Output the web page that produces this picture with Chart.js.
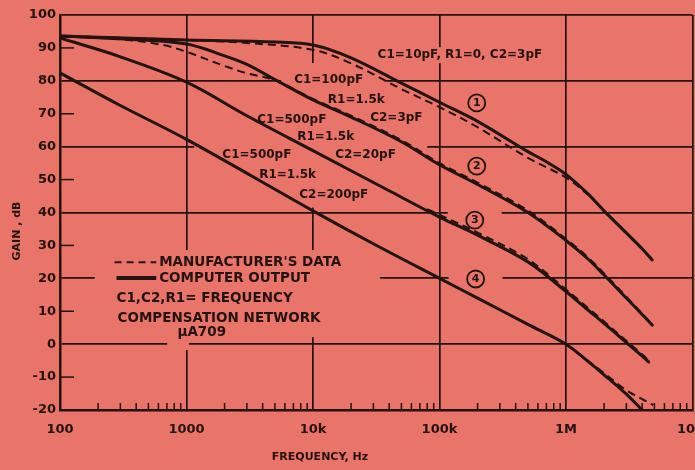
<!DOCTYPE html>
<html>
<head>
<meta charset="utf-8">
<script src="https://cdn.jsdelivr.net/npm/chart.js@4"></script>
<style>
  html, body { margin: 0; padding: 0; background: #e8746a; overflow: hidden; }
  canvas { display: block; }
</style>
</head>
<body>
<canvas id="gainChart" width="720" height="470"></canvas>
<script>
// ---------- Data (Hz, dB) ----------
// curve 1: C1=10pF, R1=0, C2=3pF
const freq1 = [100, 1e3, 5e3, 1e4, 2e4, 5e4, 1e5, 2e5, 5e5, 7e5, 1e6, 1.5e6, 2e6, 3e6, 4e6, 4.8e6];
const gain1 = [93.6, 92.4, 91.8, 90.9, 87.0, 79.3, 73.5, 67.7, 58.5, 55.4, 51.6, 45.6, 40.5, 33.8, 29.0, 25.6];
const freqM1 = [100, 1e3, 3e3, 1e4, 2e4, 5e4, 1e5, 2e5, 5e5, 1e6, 1.5e6, 2e6, 3e6, 4e6, 4.8e6];
const gainM1 = [93.6, 92.4, 91.5, 89.4, 85.3, 77.5, 72.0, 65.9, 56.6, 50.6, 45.3, 40.4, 33.7, 28.9, 25.6];

// curve 2: C1=100pF, R1=1.5k, C2=3pF
const freq2 = [100, 300, 1e3, 2e3, 3e3, 5e3, 1e4, 2e4, 5e4, 1e5, 2e5, 5e5, 1e6, 1.5e6, 2e6, 3e6, 4e6, 4.8e6];
const gain2 = [93.6, 92.8, 91.2, 87.6, 85.0, 80.4, 74.2, 69.0, 61.5, 54.5, 48.5, 40.0, 31.5, 25.8, 21.0, 14.0, 9.0, 5.8];
const freqM2 = [100, 300, 650, 1e3, 2e3, 3e3, 5e3, 1e4, 2e4, 5e4, 1e5, 2e5, 5e5, 1e6, 1.5e6, 2e6, 3e6, 4e6, 4.8e6];
const gainM2 = [93.6, 92.6, 90.9, 88.8, 84.5, 82.3, 80.2, 74.5, 69.4, 62.0, 55.0, 49.1, 40.6, 32.0, 26.3, 21.5, 14.4, 9.3, 6.0];

// curve 3: C1=500pF, R1=1.5k, C2=20pF
const freq3 = [100, 300, 1e3, 3e3, 1e4, 4e4, 1e5, 2e5, 5e5, 1e6, 1.5e6, 2e6, 3e6, 4e6, 4.5e6];
const gain3 = [93.0, 87.3, 79.6, 69.4, 58.8, 46.6, 38.6, 33.1, 25.0, 16.0, 10.3, 6.3, 0.5, -3.6, -5.4];
const freqM3 = [8e4, 1e5, 2e5, 5e5, 1e6, 1.5e6, 2e6, 3e6, 4e6, 4.5e6];
const gainM3 = [41.0, 39.3, 33.9, 25.8, 16.6, 10.9, 6.9, 1.0, -3.1, -5.0];

// curve 4: C1=500pF, R1=1.5k, C2=200pF
const freq4 = [100, 300, 1e3, 1e4, 3e4, 1e5, 2e5, 5e5, 1e6, 1.5e6, 2e6, 3e6, 4e6];
const gain4 = [82.4, 72.5, 62.2, 40.5, 30.5, 20.0, 14.0, 6.0, 0.0, -5.3, -9.3, -15.2, -20];
const freqM4 = [1e6, 2e6, 3e6, 4e6, 4.9e6];
const gainM4 = [0.0, -8.8, -14.0, -16.7, -18.5];

// axes
const majorFreqs = [100, 1e3, 1e4, 1e5, 1e6, 1e7];
const freqLabels = ["100", "1000", "10k", "100k", "1M", "10M"];
const gainMin = -20;
const gainMax = 100;

// ---------- Annotations (placed in data units) ----------
const curveNotes = [
  { f: 145000, g: 87.8, text: "C1=10pF, R1=0, C2=3pF" },
  { f: 13300, g: 80.2, text: "C1=100pF" },
  { f: 22000, g: 74.2, text: "R1=1.5k" },
  { f: 45600, g: 68.7, text: "C2=3pF" },
  { f: 6800, g: 68.1, text: "C1=500pF" },
  { f: 12600, g: 62.9, text: "R1=1.5k" },
  { f: 26000, g: 57.4, text: "C2=20pF" },
  { f: 3600, g: 57.4, text: "C1=500pF" },
  { f: 6300, g: 51.4, text: "R1=1.5k" },
  { f: 14600, g: 45.3, text: "C2=200pF" },
];
const circleNotes = [
  { f: 197000, g: 73.3, text: "1" },
  { f: 197000, g: 54.1, text: "2" },
  { f: 190000, g: 37.7, text: "3" },
  { f: 193000, g: 19.8, text: "4" },
];
const legendTexts = [
  { f: 608, g: 24.9, text: "MANUFACTURER'S DATA", align: "left" },
  { f: 608, g: 20.1, text: "COMPUTER OUTPUT", align: "left" },
  { f: 280, g: 14.0, text: "C1,C2,R1= FREQUENCY", align: "left" },
  { f: 285, g: 7.9, text: "COMPENSATION NETWORK", align: "left" },
  { f: 1320, g: 3.6, text: "μA709", align: "center" },
];
// places where the drafted grid is broken
const gapBoxes = [
  { f0: 188, f1: 34000, g0: 2.1, g1: 28.6 },
  { f0: 703, f1: 1046, g0: -1.8, g1: 2.1 },
  { f0: 1150, f1: 80000, g0: 58.5, g1: 61.5 },
  { f0: 5600, f1: 37000, g0: 78.5, g1: 81.5 },
  { f0: 8400, f1: 10700, g0: 41.5, g1: 85.4 },
];

const INK = "#24130f";
const PAPER = "#e8746a";
const FONT = '"DejaVu Sans", sans-serif';

const pts = (fs, gs) => fs.map((f, i) => ({ x: f, y: gs[i] }));

function solid(fs, gs) {
  return { data: pts(fs, gs), borderColor: INK, borderWidth: 3, pointRadius: 0,
           tension: 0.35, borderCapStyle: "round" };
}
function dashed(fs, gs) {
  return { data: pts(fs, gs), borderColor: INK, borderWidth: 2, pointRadius: 0,
           borderDash: [8, 5], tension: 0.35 };
}

// ---------- Drafting extras ----------
const drafting = {
  id: "drafting",
  beforeDatasetsDraw(chart) {
    const { ctx, chartArea, scales: { x, y } } = chart;
    const px = (f) => x.getPixelForValue(f);
    const py = (g) => y.getPixelForValue(g);
    ctx.save();

    // breaks in the grid
    ctx.fillStyle = PAPER;
    gapBoxes.forEach((b) => {
      ctx.fillRect(px(b.f0), py(b.g1), px(b.f1) - px(b.f0), py(b.g0) - py(b.g1));
    });

    // minor ticks on the frequency axis, pointing up
    ctx.strokeStyle = INK;
    ctx.lineWidth = 1.5;
    x.ticks.forEach((t) => {
      if (majorFreqs.includes(t.value)) return;
      const xx = px(t.value);
      ctx.beginPath();
      ctx.moveTo(xx, chartArea.bottom);
      ctx.lineTo(xx, chartArea.bottom - 7);
      ctx.stroke();
    });
    // short ticks at the odd tens of dB
    y.ticks.forEach((t) => {
      if (t.value % 20 === 0) return;
      const yy = py(t.value);
      ctx.beginPath();
      ctx.moveTo(chartArea.left, yy);
      ctx.lineTo(chartArea.left + 14, yy);
      ctx.stroke();
    });

    // curve labels
    ctx.font = "bold 12px " + FONT;
    ctx.textAlign = "center";
    ctx.textBaseline = "middle";
    curveNotes.forEach((n) => {
      const w = ctx.measureText(n.text).width;
      const cx = px(n.f), cy = py(n.g);
      ctx.fillStyle = PAPER;
      ctx.fillRect(cx - w / 2 - 3, cy - 8, w + 6, 16);
      ctx.fillStyle = INK;
      ctx.fillText(n.text, cx, cy);
    });

    // circled curve numbers
    ctx.font = "bold 11px " + FONT;
    circleNotes.forEach((n) => {
      const cx = px(n.f), cy = py(n.g);
      ctx.fillStyle = PAPER;
      ctx.fillRect(cx - 27, cy - 10, 54, 20);
      ctx.beginPath();
      ctx.arc(cx, cy, 8.5, 0, Math.PI * 2);
      ctx.lineWidth = 1.8;
      ctx.stroke();
      ctx.fillStyle = INK;
      ctx.fillText(n.text, cx, cy + 0.5);
    });

    // legend samples
    ctx.lineWidth = 2;
    ctx.setLineDash([7, 5]);
    ctx.beginPath();
    ctx.moveTo(px(270), py(24.9));
    ctx.lineTo(px(577), py(24.9));
    ctx.stroke();
    ctx.setLineDash([]);
    ctx.lineWidth = 4;
    ctx.beginPath();
    ctx.moveTo(px(280), py(20.1));
    ctx.lineTo(px(577), py(20.1));
    ctx.stroke();

    ctx.font = "bold 13.5px " + FONT;
    ctx.fillStyle = INK;
    legendTexts.forEach((n) => {
      ctx.textAlign = n.align;
      ctx.fillText(n.text, px(n.f), py(n.g));
    });

    // axis titles
    ctx.font = "bold 11px " + FONT;
    ctx.textAlign = "center";
    ctx.fillText("FREQUENCY, Hz", 320, 457);
    ctx.save();
    ctx.translate(17, 231);
    ctx.rotate(-Math.PI / 2);
    ctx.fillText("GAIN , dB", 0, 0);
    ctx.restore();

    ctx.restore();
  },
};

// ---------- Chart ----------
const chart = new Chart(document.getElementById("gainChart"), {
  type: "line",
  data: {
    datasets: [
      dashed(freqM1, gainM1),
      dashed(freqM2, gainM2),
      dashed(freqM3, gainM3),
      dashed(freqM4, gainM4),
      solid(freq1, gain1),
      solid(freq2, gain2),
      solid(freq3, gain3),
      solid(freq4, gain4),
    ],
  },
  options: {
    responsive: false,
    animation: false,
    events: [],
    layout: { padding: { top: 15, right: 22.5, left: 0, bottom: 0 } },
    plugins: { legend: { display: false }, tooltip: { enabled: false } },
    scales: {
      x: {
        type: "logarithmic",
        min: 100,
        max: 1e7,
        afterBuildTicks(scale) {
          const t = [];
          majorFreqs.forEach((f, i) => {
            t.push({ value: f });
            if (i < majorFreqs.length - 1) {
              for (let m = 2; m <= 9; m++) t.push({ value: f * m });
            }
          });
          scale.ticks = t;
        },
        afterFit(scale) { scale.height = 60; },
        grid: {
          drawTicks: false,
          lineWidth: 1.7,
          color: (c) => (c.tick && majorFreqs.includes(c.tick.value) ? INK : "transparent"),
        },
        border: { display: true, color: INK, width: 2.5 },
        ticks: {
          autoSkip: false,
          maxRotation: 0,
          padding: 12,
          color: INK,
          font: { family: FONT, size: 13, weight: "bold" },
          callback: (v) => {
            const i = majorFreqs.indexOf(v);
            return i >= 0 ? freqLabels[i] : "";
          },
        },
      },
      y: {
        type: "linear",
        min: gainMin,
        max: gainMax,
        afterFit(scale) { scale.width = 60; },
        grid: {
          drawTicks: false,
          lineWidth: 1.7,
          color: (c) => (c.tick && c.tick.value % 20 === 0 ? INK : "transparent"),
        },
        border: { display: true, color: INK, width: 2.5 },
        ticks: {
          stepSize: 10,
          padding: 4,
          color: INK,
          font: { family: FONT, size: 13, weight: "bold" },
        },
      },
    },
  },
  plugins: [drafting],
});
</script>
</body>
</html>
